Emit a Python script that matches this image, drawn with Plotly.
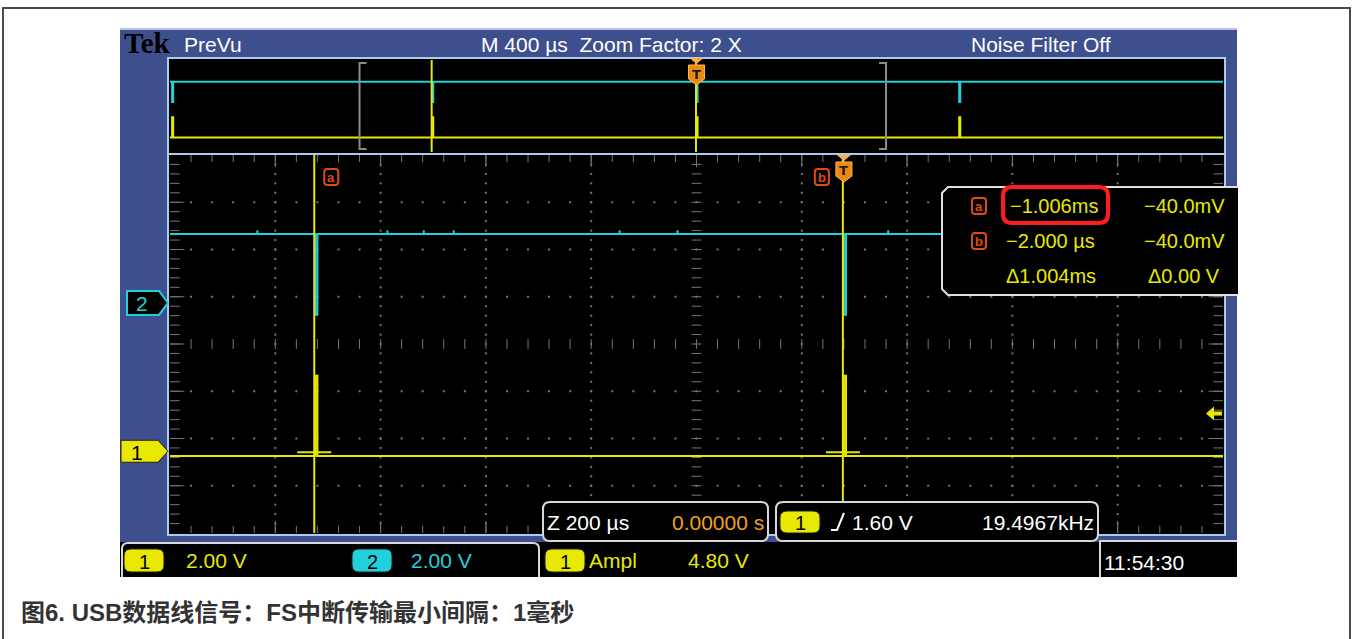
import numpy as np
import plotly.graph_objects as go

# ---------------- acquisition settings ----------------
prevu_us_per_div = 400
zoom_us_per_div = 200
zoom_factor = 2
ch_volts_per_div = {"1": 2.00, "2": 2.00}
ch1_offset_div = -2.27
ch2_offset_div = 0.87
main_window_us = [-1280, 720]
prevu_window_us = [-2000, 2000]
prevu_view_div = [-3.59, 4.16]

# ---------------- captured waveforms ----------------
packet_start_us = [-1992, -1004, 0, 998]
packet_len_us = 4
ch1_idle_v = -0.20
ch1_packet_v = 3.20
ch2_idle_v = 2.92
ch2_packet_v = -0.50
ch2_glitch_us = [-1924, -1631, -1612, -1506, -1395, -1114, -867, -798, -741,
                 -426, -316, 84, 278, 331, 365, 582, 669, 1042, 1247, 1894]
ch2_glitch_v = 3.08

# ---------------- cursors, trigger, measurements ----------------
cursor_a_us = -1006
cursor_b_us = -2
cursor_a_v = -0.040
cursor_b_v = -0.040
trigger_us = 0
trigger_level_v = 1.60
trigger_freq_khz = 19.4967
ch1_ampl_v = 4.80
clock_text = "11:54:30"
caption_text = "图6. USB数据线信号：FS中断传输最小间隔：1毫秒"

# ---------------- colours / fonts ----------------
YEL = "#e8e800"
CYA = "#22d0dc"
ORG = "#e04a10"
AMB = "#f0a020"
GRID = "#767670"
FRAME = "#3e4f8e"
EDGE = "#a9cbee"
NARROW = "Liberation Sans, Arial, sans-serif"
FS = 21

W, H = 1352, 639
MAIN_L, MAIN_R, MAIN_T, MAIN_B = 170, 1223, 155, 533
OV_T, OV_B = 60, 152


def fx(x):
    return x / W


def fy(y):
    return 1 - y / H


def mx(t):
    return MAIN_L + (t - main_window_us[0]) / (main_window_us[1] - main_window_us[0]) * (MAIN_R - MAIN_L)


def my(d):
    return MAIN_T + (4 - d) / 8 * (MAIN_B - MAIN_T)


def ox(t):
    return MAIN_L + (t - prevu_window_us[0]) / (prevu_window_us[1] - prevu_window_us[0]) * (MAIN_R - MAIN_L)


def v2div(v, offset, vpd):
    return offset + np.asarray(v) / vpd


def build_wave(idle, level, starts, length, glitches, glitch_level):
    events = sorted([(s, length, level) for s in starts] +
                    [(g, 0.0, glitch_level) for g in glitches])
    t = [prevu_window_us[0] - 50]
    v = [idle]
    for s, ln, lv in events:
        t += [s, s, s + ln, s + ln]
        v += [idle, lv, lv, idle]
    t.append(prevu_window_us[1] + 50)
    v.append(idle)
    return np.array(t, float), np.array(v, float)


shapes = []
annots = []


def rect(x0, y0, x1, y1, fill=None, line=None, lw=0, layer="above"):
    shapes.append(dict(type="rect", xref="paper", yref="paper", x0=fx(x0), x1=fx(x1),
                       y0=fy(y1), y1=fy(y0), fillcolor=fill or "rgba(0,0,0,0)",
                       line=dict(color=line or "rgba(0,0,0,0)", width=lw), layer=layer))


def path(pts, fill=None, line=None, lw=0, closed=True, layer="above"):
    d = "M " + " L ".join(f"{fx(x):.5f},{fy(y):.5f}" for x, y in pts)
    if closed:
        d += " Z"
    shapes.append(dict(type="path", xref="paper", yref="paper", path=d,
                       fillcolor=fill or "rgba(0,0,0,0)",
                       line=dict(color=line or "rgba(0,0,0,0)", width=lw), layer=layer))


def rrect_d(x0, y0, x1, y1, r):
    P = lambda x, y: f"{fx(x):.5f},{fy(y):.5f}"
    return (f"M {P(x0 + r, y0)} L {P(x1 - r, y0)} Q {P(x1, y0)} {P(x1, y0 + r)} "
            f"L {P(x1, y1 - r)} Q {P(x1, y1)} {P(x1 - r, y1)} L {P(x0 + r, y1)} "
            f"Q {P(x0, y1)} {P(x0, y1 - r)} L {P(x0, y0 + r)} Q {P(x0, y0)} {P(x0 + r, y0)} Z")


def rrect(x0, y0, x1, y1, r, fill=None, line=None, lw=0, layer="above"):
    shapes.append(dict(type="path", xref="paper", yref="paper", path=rrect_d(x0, y0, x1, y1, r),
                       fillcolor=fill or "rgba(0,0,0,0)",
                       line=dict(color=line or "rgba(0,0,0,0)", width=lw), layer=layer))


def txt(x, y, s, color="white", size=FS, anchor="left", family=NARROW, **kw):
    annots.append(dict(xref="paper", yref="paper", x=fx(x), y=fy(y), text=s, showarrow=False,
                       xanchor=anchor, yanchor="middle", borderpad=0,
                       font=dict(color=color, size=size, family=family), **kw))


def tag(x, y, lab):
    rrect(x - 7, y - 8, x + 7, y + 8, 3, fill="black", line=ORG, lw=2)
    txt(x, y, f"<b>{lab}</b>", color=ORG, size=13, anchor="center")


def pill(x0, y0, x1, y1, fill, label, lc="black"):
    rrect(x0, y0, x1, y1, 7, fill=fill, line="#202020", lw=1)
    txt((x0 + x1) / 2, (y0 + y1) / 2 + 1, label, color=lc, size=20, anchor="center")


fig = go.Figure()

# ---------------- page, frame and panels ----------------
rect(3, 8, 1350, 660, line="#4a4a4a", lw=2, layer="below")
rect(120, 28, 1237, 577, fill=FRAME, layer="below")
rect(120, 28, 1237, 30, fill="#b9c2e2", layer="below")
rect(168, 58, 1225, 154, fill="black", line=EDGE, lw=2, layer="below")
rect(168, 154, 1225, 535, fill="black", line=EDGE, lw=2, layer="below")
rect(120, 542, 1237, 577, fill="black", layer="below")

# ---------------- graticule ----------------
x0, x1 = main_window_us
step_x = zoom_us_per_div / 5
xs_minor = np.arange(x0, x1 + 1e-6, step_x)
ys_minor = np.round(np.arange(-4, 4.0001, 0.2), 4)
major_x = x0 + zoom_us_per_div * np.arange(1, 10)
major_y = np.arange(-3, 4)
center_x = x0 + 5 * zoom_us_per_div
us_pp = (x1 - x0) / (MAIN_R - MAIN_L)
dv_pp = 8 / (MAIN_B - MAIN_T)

dot_x, dot_y = [], []
for xm in major_x:
    if xm == center_x:
        continue
    dot_x += [xm] * (len(ys_minor) - 2)
    dot_y += list(ys_minor[1:-1])
for ym in major_y:
    if ym == 0:
        continue
    dot_x += list(xs_minor[1:-1])
    dot_y += [ym] * (len(xs_minor) - 2)
fig.add_trace(go.Scatter(x=dot_x, y=dot_y, mode="markers", hoverinfo="skip",
                         marker=dict(symbol="square", size=2, color=GRID, line=dict(width=0))))


def ticks(xs, ys, sym, size):
    fig.add_trace(go.Scatter(x=xs, y=ys, mode="markers", hoverinfo="skip",
                             marker=dict(symbol=sym, size=size, color=GRID,
                                         line=dict(width=1, color=GRID))))


inner_x = xs_minor[1:-1]
inner_y = ys_minor[1:-1]
# centre cross
ticks(inner_x, [0] * len(inner_x), "line-ns", 7)
ticks([center_x] * len(inner_y), inner_y, "line-ew", 7)
# frame ticks
ticks(inner_x, [4 - 3 * dv_pp] * len(inner_x), "line-ns", 6)
ticks(inner_x, [-4 + 3 * dv_pp] * len(inner_x), "line-ns", 6)
ticks(major_x, [4 - 5 * dv_pp] * len(major_x), "line-ns", 10)
ticks(major_x, [-4 + 5 * dv_pp] * len(major_x), "line-ns", 10)
ticks([x0 + 4 * us_pp] * len(inner_y), inner_y, "line-ew", 8)
ticks([x1 - 4 * us_pp] * len(inner_y), inner_y, "line-ew", 8)
ticks([x0 + 6 * us_pp] * len(major_y), major_y, "line-ew", 12)
ticks([x1 - 6 * us_pp] * len(major_y), major_y, "line-ew", 12)

# ---------------- waveforms ----------------
t2, v2 = build_wave(ch2_idle_v, ch2_packet_v, packet_start_us, packet_len_us,
                    ch2_glitch_us, ch2_glitch_v)
t1, v1 = build_wave(ch1_idle_v, ch1_packet_v, packet_start_us, packet_len_us, [], ch1_idle_v)
d2 = v2div(v2, ch2_offset_div, ch_volts_per_div["2"])
d1 = v2div(v1, ch1_offset_div, ch_volts_per_div["1"])

for xa, ya, w in (("x", "y", 2), ("x2", "y2", 2)):
    fig.add_trace(go.Scatter(x=t2, y=d2, mode="lines", xaxis=xa, yaxis=ya, hoverinfo="skip",
                             line=dict(color=CYA, width=w, simplify=False)))
    fig.add_trace(go.Scatter(x=t1, y=d1, mode="lines", xaxis=xa, yaxis=ya, hoverinfo="skip",
                             line=dict(color=YEL, width=w, simplify=False)))

# ---------------- cursors ----------------
for c, cv in ((cursor_a_us, cursor_a_v), (cursor_b_us, cursor_b_v)):
    fig.add_trace(go.Scatter(x=[c, c], y=[-4, 4], mode="lines", hoverinfo="skip",
                             line=dict(color=YEL, width=2)))
    cy = float(v2div(cv, ch1_offset_div, ch_volts_per_div["1"]))
    fig.add_trace(go.Scatter(x=[c - 17 * us_pp, c + 17 * us_pp], y=[cy, cy], mode="lines",
                             hoverinfo="skip", line=dict(color=YEL, width=2)))
    fig.add_trace(go.Scatter(x=[c, c], y=prevu_view_div, mode="lines", xaxis="x2", yaxis="y2",
                             hoverinfo="skip", line=dict(color=YEL, width=2)))

# cursor tags
tag(mx(cursor_a_us) + 17, 177, "a")
tag(mx(cursor_b_us) - 21, 177, "b")

# ---------------- zoom window bracket in PreVu strip ----------------
bl, br = ox(main_window_us[0]), ox(main_window_us[1])
path([(bl + 7, 63), (bl, 63), (bl, 149), (bl + 7, 149)], line="#8c8c8c", lw=2, closed=False)
path([(br - 7, 63), (br, 63), (br, 149), (br - 7, 149)], line="#8c8c8c", lw=2, closed=False)


# ---------------- trigger markers ----------------
def trig_marker(xc, ytop):
    path([(xc - 7, ytop), (xc + 7, ytop), (xc, ytop + 6)], fill="#f8b040")
    path([(xc - 8, ytop + 7), (xc + 8, ytop + 7), (xc + 8, ytop + 21), (xc, ytop + 27),
          (xc - 8, ytop + 21)], fill="#ea8a10", line="#ffb850", lw=1)
    txt(xc, ytop + 16, "<b>T</b>", color="#1a1a1a", size=13, anchor="center",
        family="DejaVu Sans, sans-serif")


trig_marker(mx(trigger_us), 155)
trig_marker(ox(trigger_us), 58)

# trigger level arrow on the right edge
ty = my(ch1_offset_div + trigger_level_v / ch_volts_per_div["1"])
path([(1206, ty), (1214, ty - 7), (1214, ty - 2), (1222, ty - 2), (1222, ty + 2),
      (1214, ty + 2), (1214, ty + 7)], fill=YEL)

# channel ground flags
y2f = my(ch2_offset_div)
path([(127, y2f - 12), (159, y2f - 12), (168, y2f), (159, y2f + 12), (127, y2f + 12)],
     fill="black", line=CYA, lw=2)
txt(142, y2f + 1, "2", color=CYA, size=21, anchor="center")
y1f = my(ch1_offset_div)
path([(121, y1f - 11), (158, y1f - 11), (168, y1f), (158, y1f + 11), (121, y1f + 11)],
     fill=YEL, line="#202020", lw=1)
txt(137, y1f + 1, "1", color="black", size=21, anchor="center")

# ---------------- cursor readout box ----------------
rect(942, 187, 1238, 295, fill="black")
path([(1238, 187), (948, 187), (942, 193), (942, 289), (948, 295), (1238, 295)],
     line="#e0e0e0", lw=2, closed=False)


def fmt_t(us):
    s = "−" if us < 0 else ""
    a = abs(us)
    if a >= 1000:
        return f"{s}{a / 1000:.3f}ms"
    return f"{s}{a:.3f} µs"


def fmt_mv(v):
    return ("−" if v < 0 else "") + f"{abs(v) * 1000:.1f}mV"


rows = [("a", fmt_t(cursor_a_us), fmt_mv(cursor_a_v)),
        ("b", fmt_t(cursor_b_us), fmt_mv(cursor_b_v)),
        ("", "Δ" + fmt_t(cursor_b_us - cursor_a_us), f"Δ{abs(cursor_b_v - cursor_a_v):.2f} V")]
for i, (ic, tv, vv) in enumerate(rows):
    yy = 206 + 35 * i
    if ic:
        tag(979, yy, ic)
    txt(1009 if i == 0 else 1005, yy, tv, color=YEL, size=20)
    txt(1226 if i < 2 else 1221, yy, vv, color=YEL, size=20, anchor="right")
rrect(1003, 187, 1108, 223, 9, line="#ff1c1c", lw=4)

# ---------------- header ----------------
txt(123, 43, "<b>Tek</b>", color="black", size=29, family="Liberation Serif, serif")
txt(183, 44, "PreVu", size=FS)
txt(480, 44, f"M {prevu_us_per_div} µs  Zoom Factor: {zoom_factor} X", size=FS)
txt(970, 44, "Noise Filter Off", size=FS)

# ---------------- lower status boxes ----------------
rrect(543, 502, 768, 541, 7, fill="black", line="#d8d8d8", lw=2)
txt(546, 522, f"Z {zoom_us_per_div} µs", size=FS)
txt(765, 522, "0.00000 s", color=AMB, size=FS, anchor="right")

rrect(776, 502, 1098, 541, 7, fill="black", line="#d8d8d8", lw=2)
pill(780, 511, 820, 533, YEL, "1")
path([(831, 530), (837, 530), (844, 513)], line="white", lw=2, closed=False)
txt(851, 522, f"{trigger_level_v:.2f} V", size=FS)
txt(1095, 522, f"{trigger_freq_khz:.4f}kHz", size=FS, anchor="right")

# bottom bar
shapes.append(dict(type="path", xref="paper", yref="paper", layer="above",
                   path=f"M {fx(122)},{fy(577)} L {fx(122)},{fy(549)} Q {fx(122)},{fy(543)} {fx(128)},{fy(543)} "
                        f"L {fx(533)},{fy(543)} Q {fx(539)},{fy(543)} {fx(539)},{fy(549)} L {fx(539)},{fy(577)}",
                   line=dict(color="#d8d8d8", width=2)))
path([(1100, 577), (1100, 541), (1237, 541)], line="#d8d8d8", lw=2, closed=False)
pill(124, 549, 164, 572, YEL, "1")
txt(185, 560, f"{ch_volts_per_div['1']:.2f} V", color=YEL, size=FS)
pill(352, 549, 392, 572, CYA, "2")
txt(410, 560, f"{ch_volts_per_div['2']:.2f} V", color=CYA, size=FS)
pill(545, 549, 585, 572, YEL, "1")
txt(588, 560, "Ampl", color=YEL, size=FS)
txt(750, 560, f"{ch1_ampl_v:.2f} V", color=YEL, size=FS, anchor="right")
txt(1103, 562, clock_text, size=FS)

# caption
txt(20, 612, f"<b>{caption_text}</b>", color="#333333", size=24,
    family="Liberation Sans, Noto Sans CJK SC, sans-serif")

fig.update_layout(
    width=W, height=H, margin=dict(l=0, r=0, t=0, b=0),
    paper_bgcolor="white", plot_bgcolor="rgba(0,0,0,0)", showlegend=False,
    shapes=shapes, annotations=annots,
    xaxis=dict(domain=[fx(MAIN_L), fx(MAIN_R)], range=main_window_us, visible=False,
               fixedrange=True, anchor="y"),
    yaxis=dict(domain=[fy(MAIN_B), fy(MAIN_T)], range=[-4, 4], visible=False,
               fixedrange=True, anchor="x"),
    xaxis2=dict(domain=[fx(MAIN_L), fx(MAIN_R)], range=prevu_window_us, visible=False,
                fixedrange=True, anchor="y2"),
    yaxis2=dict(domain=[fy(OV_B), fy(OV_T)], range=prevu_view_div, visible=False,
                fixedrange=True, anchor="x2"),
)

fig.write_html("out.html")
